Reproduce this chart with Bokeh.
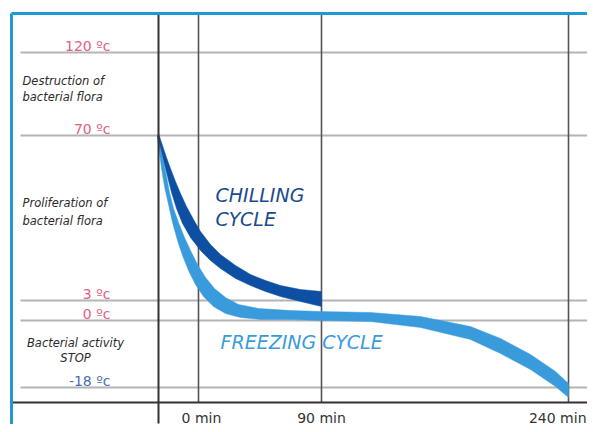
from bokeh.plotting import figure
from bokeh.models import Range1d
from bokeh.core.properties import value
from bokeh.embed import file_html
from bokeh.resources import INLINE

# ---- schematic data (chart units: x = time scale, y = temperature scale, top-down) ----
temp_labels = ["120 ºc", "70 ºc", "3 ºc", "0 ºc", "-18 ºc"]
temp_levels = [52, 135, 300, 320, 387]
temp_colors = ["#e2607f", "#e2607f", "#e2607f", "#e2607f", "#4a6db3"]

time_labels = ["0 min", "90 min", "240 min"]
time_marks = [198, 321, 568]
time_label_x = [201, 321, 586]
time_label_align = ["center", "center", "right"]

axis_x = 158
axis_y = 402

zone_lines = [["Destruction of", "bacterial flora"],
              ["Proliferation of", "bacterial flora"]]
zone_y = [[80, 96], [202, 220]]
stop_lines = ["Bacterial activity", "STOP"]
stop_y = [342, 357]

# chilling cycle band (upper/right edge, then lower/left edge)
chill_top_x = [158, 162, 166, 170, 175, 180, 186, 193, 200, 210, 220, 235, 250, 265, 280, 300, 321]
chill_top_y = [133, 145, 157, 168, 181, 193, 206, 219, 231, 244, 254, 265, 274, 280, 285, 289, 291]
chill_bot_x = [321, 300, 280, 265, 250, 235, 220, 210, 200, 190, 182, 176, 171, 167, 163, 160, 157]
chill_bot_y = [306, 301, 296, 291, 285, 278, 268, 260, 250, 237, 223, 208, 192, 176, 160, 147, 136]

# freezing cycle band
freeze_top_x = [158, 160, 163, 166, 169, 173, 178, 184, 190, 197, 205, 214, 225, 238, 258, 290, 320,
                370, 420, 470, 500, 530, 555, 568]
freeze_top_y = [134, 148, 162, 176, 192, 208, 222, 237, 250, 264, 277, 288, 297, 304, 308, 310, 311,
                312, 316, 326, 338, 354, 371, 383]
freeze_bot_x = [568, 555, 530, 500, 470, 420, 370, 320, 290, 260, 240, 225, 213, 203, 195, 188, 182,
                177, 172, 168, 164, 161, 159, 157]
freeze_bot_y = [397, 386, 369, 353, 339, 327, 321, 320, 319, 319, 317, 313, 306, 296, 284, 270, 255,
                240, 222, 204, 186, 168, 152, 137]

FONT = value("DejaVu Sans")

p = figure(width=587, height=424, x_range=Range1d(0, 587), y_range=Range1d(424, 0),
           min_border=0, toolbar_location=None, output_backend="svg",
           x_axis_type=None, y_axis_type=None)
p.grid.visible = False
p.outline_line_color = None
p.background_fill_color = "white"
p.border_fill_color = "white"

# horizontal temperature lines
p.segment(x0=[20] * len(temp_levels), y0=temp_levels, x1=[595] * len(temp_levels), y1=temp_levels,
          line_color="#b4b4b4", line_width=2)
# vertical time lines
p.segment(x0=time_marks, y0=[13] * len(time_marks), x1=time_marks, y1=[axis_y] * len(time_marks),
          line_color="#555555", line_width=1.6)

# bands
p.patch(freeze_top_x + freeze_bot_x, freeze_top_y + freeze_bot_y,
        fill_color="#3a9bdc", line_color="#3a9bdc", line_width=0.5, line_join="round")
p.patch(chill_top_x + chill_bot_x, chill_top_y + chill_bot_y,
        fill_color="#0c4fa3", line_color="#0c4fa3", line_width=0.5, line_join="round")

# axes lines
p.segment(x0=[10], y0=[axis_y], x1=[595], y1=[axis_y], line_color="#333333", line_width=2)
p.segment(x0=[axis_x], y0=[13], x1=[axis_x], y1=[423], line_color="#333333", line_width=2)

# frame
p.segment(x0=[11, 11], y0=[13, 13], x1=[595, 11], y1=[13, 432], line_color="#1d9ad6", line_width=3)

# temperature labels
p.text(x=[110] * len(temp_labels), y=[lv - 7 for lv in temp_levels], text=temp_labels,
       text_color=temp_colors, text_font=FONT, text_font_size="14px",
       text_align="right", text_baseline="middle")

# zone descriptions
for lines, ys in zip(zone_lines, zone_y):
    p.text(x=[22, 22], y=ys, text=lines, text_color="#2a2a2a", text_font=FONT,
           text_font_style="italic", text_font_size="11.5px", text_align="left", text_baseline="middle")
p.text(x=[75, 75], y=stop_y, text=stop_lines, text_color="#2a2a2a", text_font=FONT,
       text_font_style="italic", text_font_size="11.5px", text_align="center", text_baseline="middle")

# time labels
p.text(x=time_label_x, y=[417] * len(time_marks), text=time_labels,
       text_color="#333333", text_font=FONT, text_font_size="14px",
       text_align=time_label_align, text_baseline="middle")

# cycle names
p.text(x=[215, 215], y=[194, 218], text=["CHILLING", "CYCLE"], text_color="#1b4a8f",
       text_font=FONT, text_font_style="italic", text_font_size="19px",
       text_align="left", text_baseline="middle")
p.text(x=[220], y=[341], text=["FREEZING CYCLE"], text_color="#3a9bdc",
       text_font=FONT, text_font_style="italic", text_font_size="19px",
       text_align="left", text_baseline="middle")

open("out.html", "w").write(file_html(p, INLINE))
